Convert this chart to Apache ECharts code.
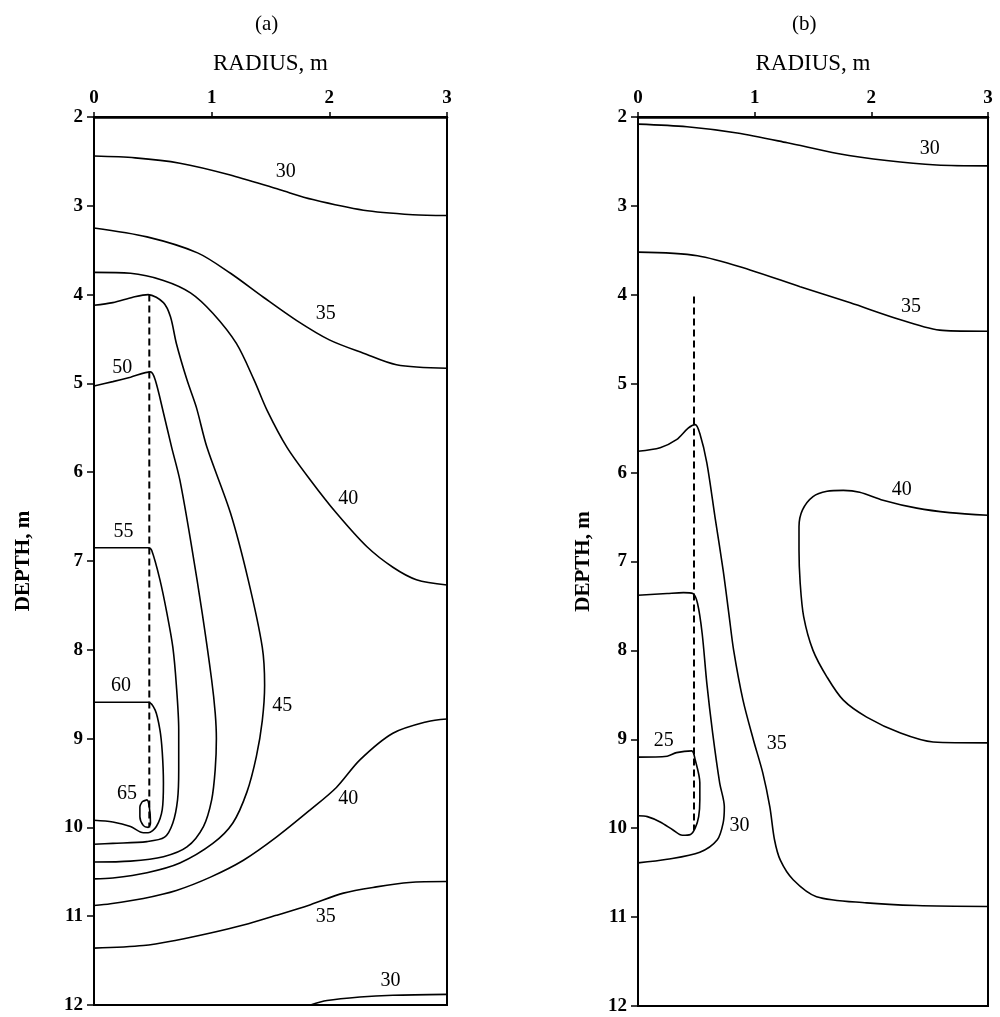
<!DOCTYPE html>
<html>
<head>
<meta charset="utf-8">
<script src="https://cdn.jsdelivr.net/npm/echarts@6/dist/echarts.min.js"></script>
<style>
html,body{margin:0;padding:0;background:#fff;}
#chart{width:1000px;height:1017px;}
</style>
</head>
<body>
<div id="chart"></div>
<script>
// ---- Axis ticks ----
const radiusTicks = [0, 1, 2, 3];
const depthTicks = [2, 3, 4, 5, 6, 7, 8, 9, 10, 11, 12];

// ---- Panel (a) contours: [radius m, depth m] ----
const a30top = [[0,2.44],[0.35,2.46],[0.73,2.52],[1.15,2.65],[1.58,2.82],[1.86,2.93],[2.29,3.05],[2.71,3.10],[3.0,3.11]];
const a35top = [[0,3.25],[0.45,3.35],[0.88,3.53],[1.16,3.76],[1.44,4.03],[1.72,4.29],[2.0,4.51],[2.29,4.66],[2.57,4.79],[3.0,4.83]];
const a40top = [[0,3.75],[0.31,3.76],[0.59,3.84],[0.82,3.98],[1.01,4.21],[1.21,4.55],[1.36,4.96],[1.47,5.3],[1.64,5.72],[1.84,6.09],[2.06,6.46],[2.32,6.84],[2.54,7.07],[2.74,7.21],[3.0,7.27]];
const a45 = [[0,4.12],[0.16,4.09],[0.33,4.03],[0.46,4.0],[0.59,4.09],[0.65,4.25],[0.70,4.55],[0.79,4.96],[0.87,5.27],[0.96,5.72],[1.16,6.46],[1.31,7.21],[1.43,7.97],[1.45,8.4],[1.43,8.8],[1.38,9.2],[1.30,9.6],[1.18,9.95],[1.01,10.18],[0.73,10.40],[0.45,10.51],[0.16,10.57],[0,10.58]];
const a50 = [[0,5.03],[0.16,4.98],[0.31,4.93],[0.48,4.87],[0.52,4.96],[0.59,5.33],[0.66,5.72],[0.73,6.09],[0.83,6.84],[0.92,7.59],[1.0,8.34],[1.03,8.71],[1.04,9.0],[1.03,9.35],[1.0,9.69],[0.93,9.99],[0.79,10.22],[0.59,10.33],[0.31,10.38],[0,10.39]];
const a55 = [[0,6.85],[0.46,6.85],[0.49,6.88],[0.56,7.21],[0.62,7.59],[0.67,7.97],[0.70,8.4],[0.72,8.9],[0.72,9.35],[0.71,9.69],[0.67,9.95],[0.60,10.11],[0.45,10.16],[0.16,10.18],[0,10.19]];
const a60 = [[0,8.59],[0.46,8.59],[0.52,8.68],[0.56,8.9],[0.58,9.15],[0.59,9.5],[0.58,9.8],[0.53,9.99],[0.46,10.06],[0.42,10.06],[0.31,9.99],[0.16,9.94],[0,9.92]];
const a65 = [[0.41,9.71],[0.45,9.69],[0.47,9.77],[0.48,9.95],[0.46,10.0],[0.42,9.98],[0.39,9.88],[0.39,9.77],[0.41,9.71]];
const a40low = [[3.0,8.78],[2.83,8.81],[2.54,8.94],[2.26,9.24],[2.06,9.55],[1.84,9.80],[1.55,10.11],[1.27,10.37],[0.99,10.56],[0.70,10.71],[0.42,10.80],[0.14,10.86],[0,10.88]];
const a35low = [[3.0,10.61],[2.68,10.62],[2.40,10.67],[2.12,10.74],[1.84,10.87],[1.55,10.99],[1.27,11.10],[0.99,11.19],[0.70,11.27],[0.42,11.33],[0,11.36]];
const a30low = [[1.84,12.0],[1.98,11.95],[2.26,11.91],[2.54,11.89],[3.0,11.88]];
const aWell = [[0.47,4.0],[0.47,10.0]];
// labels: [radius, depth, text]
const aLabels = [[1.63,2.62,'30'],[1.97,4.22,'35'],[0.24,4.82,'50'],[2.16,6.30,'40'],[0.25,6.67,'55'],[0.23,8.41,'60'],[1.60,8.63,'45'],[0.28,9.62,'65'],[2.16,9.68,'40'],[1.97,11.01,'35'],[2.52,11.73,'30']];

// ---- Panel (b) contours ----
const b30top = [[0,2.08],[0.42,2.11],[0.85,2.18],[1.28,2.29],[1.71,2.41],[2.13,2.49],[2.56,2.54],[3.0,2.55]];
const b35top = [[0,3.52],[0.51,3.56],[0.96,3.72],[1.39,3.91],[1.82,4.09],[2.25,4.28],[2.61,4.40],[3.0,4.41]];
const b40 = [[3.0,6.48],[2.67,6.45],[2.39,6.40],[2.10,6.31],[1.90,6.22],[1.76,6.20],[1.62,6.21],[1.50,6.27],[1.41,6.42],[1.38,6.61],[1.38,6.87],[1.39,7.24],[1.42,7.62],[1.50,8.0],[1.62,8.30],[1.76,8.56],[1.96,8.75],[2.25,8.93],[2.53,9.03],[3.0,9.04]];
const b35low = [[0,5.76],[0.19,5.72],[0.33,5.63],[0.43,5.50],[0.49,5.46],[0.53,5.56],[0.59,5.89],[0.66,6.5],[0.73,7.1],[0.78,7.6],[0.82,8.0],[0.90,8.56],[0.99,9.01],[1.07,9.38],[1.13,9.76],[1.17,10.13],[1.22,10.36],[1.33,10.58],[1.53,10.77],[1.96,10.84],[2.39,10.87],[3.0,10.88]];
const b30low = [[0,7.38],[0.25,7.36],[0.39,7.35],[0.47,7.36],[0.51,7.47],[0.55,7.81],[0.59,8.37],[0.64,8.93],[0.70,9.49],[0.74,9.76],[0.73,9.94],[0.68,10.13],[0.53,10.27],[0.25,10.35],[0,10.39]];
const b25 = [[0,9.2],[0.25,9.19],[0.33,9.15],[0.46,9.13],[0.49,9.23],[0.53,9.49],[0.53,9.68],[0.52,9.87],[0.49,10.0],[0.45,10.07],[0.38,10.08],[0.30,10.02],[0.19,9.93],[0.08,9.87],[0,9.86]];
const bWell = [[0.48,4.02],[0.48,10.02]];
const bLabels = [[2.50,2.36,'30'],[2.34,4.14,'35'],[2.26,6.19,'40'],[1.19,9.05,'35'],[0.22,9.02,'25'],[0.87,9.97,'30']];

const FONT = '"Liberation Serif", "DejaVu Serif", serif';
const INK = '#000';

function xAx(gi) {
  return {
    gridIndex: gi, type: 'value', position: 'top',
    min: radiusTicks[0], max: radiusTicks[radiusTicks.length - 1], interval: 1,
    name: 'RADIUS, m', nameLocation: 'middle', nameGap: 42,
    nameTextStyle: { fontFamily: FONT, fontSize: 23, color: INK },
    axisLine: { show: true, lineStyle: { color: INK, width: 2.5 } },
    axisTick: { show: true, inside: false, length: 5, lineStyle: { color: INK, width: 1.5 } },
    axisLabel: { margin: 9, fontFamily: FONT, fontSize: 19, fontWeight: 'bold', color: INK },
    splitLine: { show: false }
  };
}
function yAx(gi, gap) {
  return {
    gridIndex: gi, type: 'value', inverse: true,
    min: depthTicks[0], max: depthTicks[depthTicks.length - 1], interval: 1,
    name: 'DEPTH, m', nameLocation: 'middle', nameGap: gap, nameRotate: 90,
    nameTextStyle: { fontFamily: FONT, fontSize: 21, fontWeight: 'bold', color: INK },
    axisLine: { show: true, lineStyle: { color: INK, width: 2 } },
    axisTick: { show: true, inside: false, length: 7, lineStyle: { color: INK, width: 1.5 } },
    axisLabel: { margin: 11, fontFamily: FONT, fontSize: 19, fontWeight: 'bold', color: INK },
    splitLine: { show: false }
  };
}
function contour(data, gi) {
  return {
    type: 'line', xAxisIndex: gi, yAxisIndex: gi, data: data,
    showSymbol: false, symbol: 'none', smooth: 0.3, silent: true,
    lineStyle: { color: INK, width: 1.6 }
  };
}
function well(data, gi) {
  return {
    type: 'line', xAxisIndex: gi, yAxisIndex: gi, data: data,
    showSymbol: false, symbol: 'none', silent: true,
    lineStyle: { color: INK, width: 2, type: [7, 4] }
  };
}
function labels(data, gi) {
  return {
    type: 'scatter', xAxisIndex: gi, yAxisIndex: gi, symbolSize: 0, silent: true,
    itemStyle: { opacity: 1, color: INK },
    data: data.map(d => ({ value: [d[0], d[1]], name: d[2] })),
    label: { show: true, position: 'inside', formatter: p => p.name, opacity: 1,
      fontFamily: FONT, fontSize: 20, color: INK, textBorderWidth: 0 }
  };
}

const aLines = [a30top, a35top, a40top, a45, a50, a55, a60, a65, a40low, a35low, a30low];
const bLines = [b30top, b35top, b40, b35low, b30low, b25];

const series = [];
aLines.forEach(d => series.push(contour(d, 0)));
series.push(well(aWell, 0));
series.push(labels(aLabels, 0));
bLines.forEach(d => series.push(contour(d, 1)));
series.push(well(bWell, 1));
series.push(labels(bLabels, 1));

const chart = echarts.init(document.getElementById('chart'), null, { renderer: 'canvas' });
chart.setOption({
  backgroundColor: '#fff',
  animation: false,
  graphic: [
    { type: 'text', left: 255, top: 14, style: { text: '(a)', font: '21px ' + FONT, fill: INK } },
    { type: 'text', left: 792, top: 14, style: { text: '(b)', font: '21px ' + FONT, fill: INK } }
  ],
  grid: [
    { left: 94, top: 117, width: 353, height: 888, show: true, borderColor: INK, borderWidth: 2, backgroundColor: 'transparent' },
    { left: 638, top: 117, width: 350, height: 889, show: true, borderColor: INK, borderWidth: 2, backgroundColor: 'transparent' }
  ],
  xAxis: [xAx(0), xAx(1)],
  yAxis: [yAx(0, 60), yAx(1, 44)],
  series: series
});
</script>
</body>
</html>
